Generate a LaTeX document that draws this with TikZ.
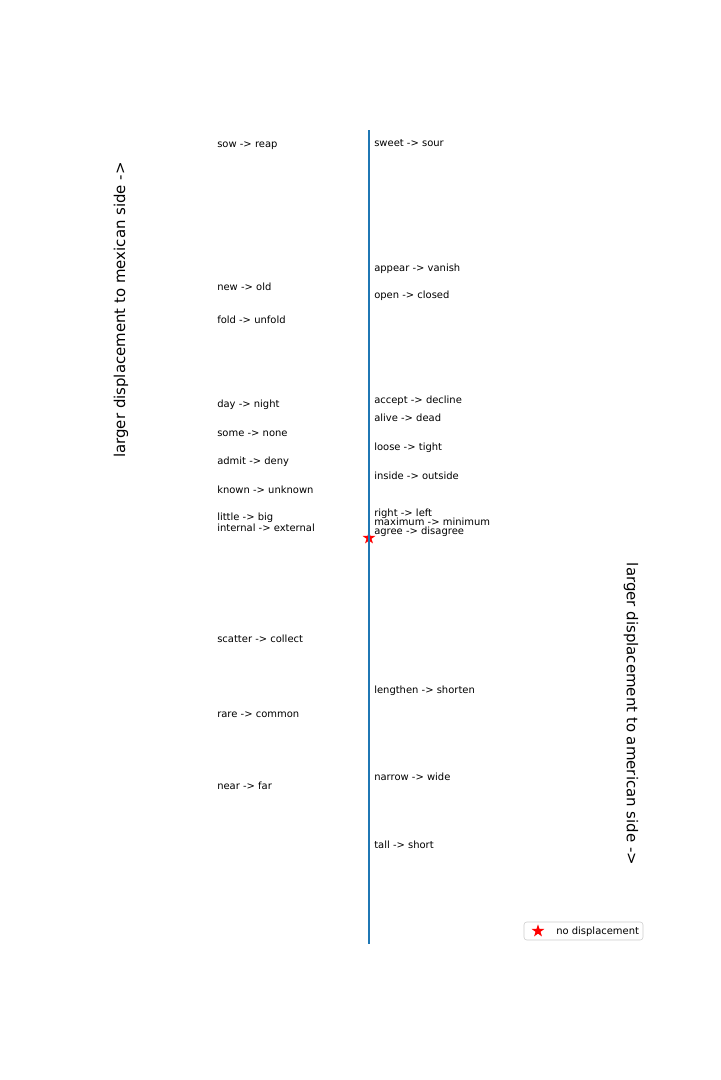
\documentclass[tikz,border=0pt]{standalone}
\usepackage{fontspec}
\setmainfont{DejaVu Sans}
\usetikzlibrary{shapes.geometric}
\definecolor{axisblue}{HTML}{1F77B4}
\definecolor{legendgray}{HTML}{CCCCCC}
\begin{document}
\begin{tikzpicture}[x=0.01in, y=-0.01in,
  pair/.style={anchor=west, inner sep=0pt, yshift=-0.8pt, font=\fontsize{7.2}{8.6}\selectfont},
  sidelabel/.style={inner sep=0pt, font=\fontsize{10.8}{13}\selectfont},
  zeromark/.style={star, star points=5, star point ratio=2.6, fill=red, draw=none, inner sep=0pt, minimum size=0.135in}]
\useasboundingbox (0,0) rectangle (720,1080);
% no displacement marker, under the line
\node[zeromark] (zero) at (369,538) {};
\coordinate (top) at (369,130);
\coordinate (bottom) at (369,944);
\draw[axisblue, line width=1.5pt] (top) -- (bottom);
% mexican side
\node[pair] (sow) at (217,145) {sow -> reap};
\node[pair] (new) at (217,286) {new -> old};
\node[pair] (fold) at (217,319) {fold -> unfold};
\node[pair] (day) at (217,404) {day -> night};
\node[pair] (some) at (217,433) {some -> none};
\node[pair] (admit) at (217,461) {admit -> deny};
\node[pair] (known) at (217,489) {known -> unknown};
\node[pair] (little) at (217,517) {little -> big};
\node[pair] (internal) at (217,527) {internal -> external};
\node[pair] (scatter) at (217,638) {scatter -> collect};
\node[pair] (rare) at (217,714) {rare -> common};
\node[pair] (near) at (217,785) {near -> far};
% american side
\node[pair] (sweet) at (374,142) {sweet -> sour};
\node[pair] (appear) at (374,268) {appear -> vanish};
\node[pair] (open) at (374,295) {open -> closed};
\node[pair] (accept) at (374,400) {accept -> decline};
\node[pair] (alive) at (374,417) {alive -> dead};
\node[pair] (loose) at (374,447) {loose -> tight};
\node[pair] (inside) at (374,475) {inside -> outside};
\node[pair] (right) at (374,513) {right -> left};
\node[pair] (maximum) at (374,521) {maximum -> minimum};
\node[pair] (agree) at (374,531) {agree -> disagree};
\node[pair] (lengthen) at (374,690) {lengthen -> shorten};
\node[pair] (narrow) at (374,776) {narrow -> wide};
\node[pair] (tall) at (374,844) {tall -> short};
% side labels
\node[sidelabel, rotate=90] (mexican) at (121,310) {larger displacement to mexican side ->};
\node[sidelabel, rotate=-90] (american) at (631,714) {larger displacement to american side ->};
% legend
\draw[legendgray, rounded corners=2pt, fill=white] (524,922) rectangle (643,940);
\node[zeromark] (legendmark) at (538,931) {};
\node[pair] (legendtext) at (556,931) {no displacement};
\end{tikzpicture}
\end{document}
